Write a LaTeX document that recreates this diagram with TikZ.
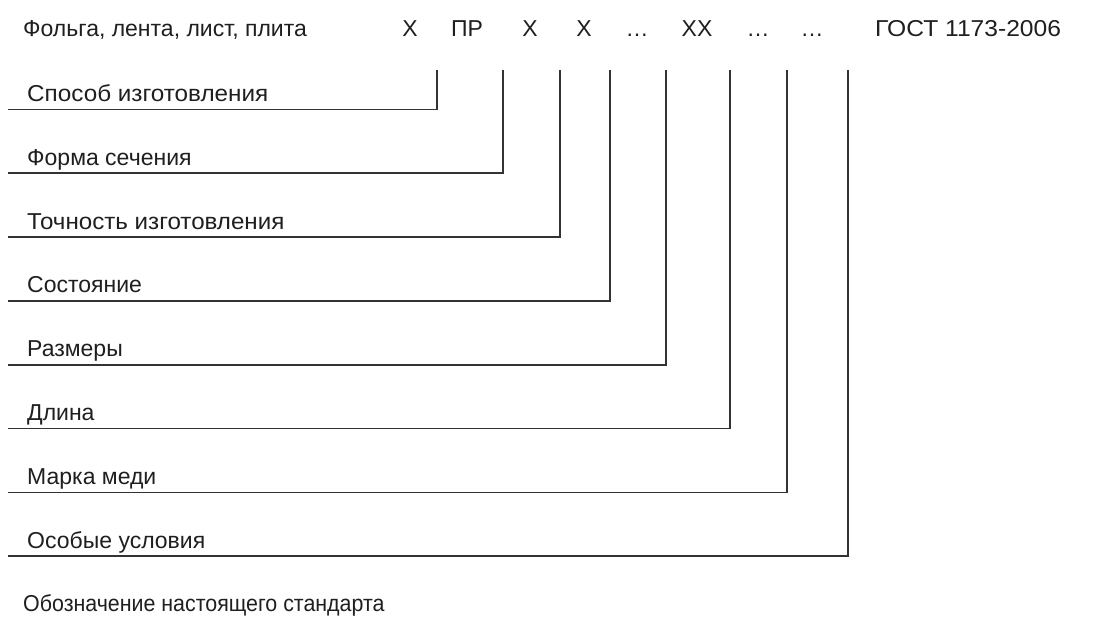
\documentclass[tikz,border=0pt]{standalone}
\usepackage{fontspec}
\setmainfont{Liberation Sans}
\begin{document}
\begin{tikzpicture}[x=1pt,y=-1pt,
		txt/.style={inner sep=0pt,text=black!88,font=\fontsize{23}{27}\selectfont},
		lbl/.style={txt,anchor=base west},
		code/.style={txt,anchor=base},
		leader/.style={line width=1.6,draw=black!80}]
		\useasboundingbox [fill=white] (0,0) rectangle (1094,617);
		% top row
		\node[lbl] (prod) at (23,36.5) {Фольга, лента, лист, плита};
		\node[code] (c1) at (410,36.5) {Х};
		\node[code] (c2) at (467,36.5) {ПР};
		\node[code] (c3) at (530,36.5) {Х};
		\node[code] (c4) at (584,36.5) {Х};
		\node[code] (c5) at (637,36.5) {…};
		\node[code] (c6) at (697,36.5) {ХХ};
		\node[code] (c7) at (758,36.5) {…};
		\node[code] (c8) at (812,36.5) {…};
		\node[lbl] (gost) at (875,36.5) {\scalebox{1.07}[1]{ГОСТ 1173-2006}};
		% labels
		\node[lbl] (l1) at (27,101.5) {\scalebox{1.055}[1]{Способ изготовления}};
		\node[lbl] (l2) at (27,165.3) {Форма сечения};
		\node[lbl] (l3) at (27,229.1) {\scalebox{1.05}[1]{Точность изготовления}};
		\node[lbl] (l4) at (27,292.9) {Состояние};
		\node[lbl] (l5) at (27,356.7) {Размеры};
		\node[lbl] (l6) at (27,420.5) {Длина};
		\node[lbl] (l7) at (27,484.3) {Марка меди};
		\node[lbl] (l8) at (27,548.1) {Особые условия};
		\node[lbl] (l9) at (23,611.9) {\scalebox{0.93}[1]{Обозначение настоящего стандарта}};
		% leader ends
		\coordinate (v1) at (437,70);
		\coordinate (v2) at (503,70);
		\coordinate (v3) at (560,70);
		\coordinate (v4) at (610,70);
		\coordinate (v5) at (666,70);
		\coordinate (v6) at (730,70);
		\coordinate (v7) at (787,70);
		\coordinate (v8) at (848,70);
		\coordinate (h1) at (8,109.5);
		\coordinate (h2) at (8,173.3);
		\coordinate (h3) at (8,237.1);
		\coordinate (h4) at (8,300.9);
		\coordinate (h5) at (8,364.7);
		\coordinate (h6) at (8,428.5);
		\coordinate (h7) at (8,492.3);
		\coordinate (h8) at (8,556.1);
		\draw[leader] (v1) |- (h1);
		\draw[leader] (v2) |- (h2);
		\draw[leader] (v3) |- (h3);
		\draw[leader] (v4) |- (h4);
		\draw[leader] (v5) |- (h5);
		\draw[leader] (v6) |- (h6);
		\draw[leader] (v7) |- (h7);
		\draw[leader] (v8) |- (h8);
	\end{tikzpicture}
\end{document}
